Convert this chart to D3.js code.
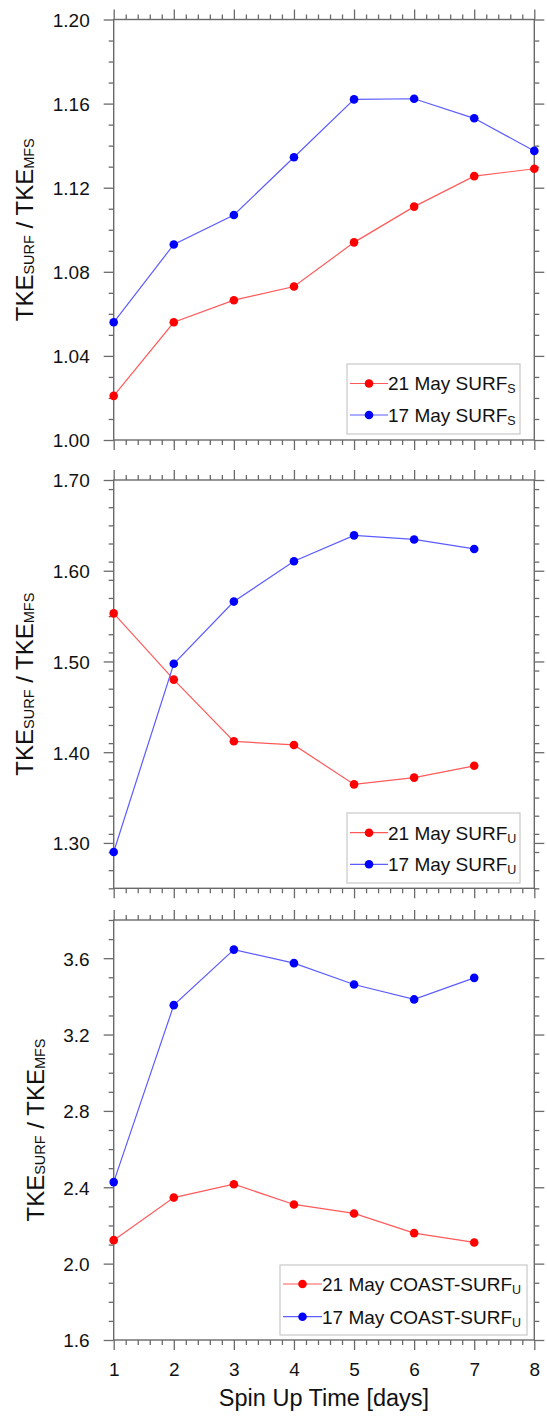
<!DOCTYPE html>
<html>
<head>
<meta charset="utf-8">
<script src="https://cdn.jsdelivr.net/npm/d3@7"></script>
<style>
  html, body { margin: 0; padding: 0; background: #fff; }
  svg { display: block; font-family: "Liberation Sans", Arial, Helvetica, sans-serif; }
</style>
</head>
<body>
<svg id="chart" width="547" height="1417"></svg>
<script>
// ---------------- data ----------------
const days = [1, 2, 3, 4, 5, 6, 7, 8];
const xTickLabels = ["1", "2", "3", "4", "5", "6", "7", "8"];

// Panel 1: SURF_S
const p1Red  = [1.021, 1.056, 1.0665, 1.073, 1.094, 1.111, 1.1255, 1.129];
const p1Blue = [1.056, 1.093, 1.107, 1.1345, 1.162, 1.1623, 1.153, 1.1375];
const p1YTicks = [1.00, 1.04, 1.08, 1.12, 1.16, 1.20];
const p1YLabels = ["1.00", "1.04", "1.08", "1.12", "1.16", "1.20"];

// Panel 2: SURF_U
const p2Red  = [1.553, 1.480, 1.412, 1.408, 1.3645, 1.372, 1.385];
const p2Blue = [1.290, 1.4975, 1.566, 1.6105, 1.639, 1.6345, 1.624];
const p2YTicks = [1.30, 1.40, 1.50, 1.60, 1.70];
const p2YLabels = ["1.30", "1.40", "1.50", "1.60", "1.70"];

// Panel 3: COAST-SURF_U
const p3Red  = [2.123, 2.346, 2.416, 2.310, 2.263, 2.160, 2.111];
const p3Blue = [2.427, 3.354, 3.645, 3.574, 3.462, 3.384, 3.497];
const p3YTicks = [1.6, 2.0, 2.4, 2.8, 3.2, 3.6];
const p3YLabels = ["1.6", "2.0", "2.4", "2.8", "3.2", "3.6"];

const legendRed  = ["21 May SURF", "21 May SURF", "21 May COAST-SURF"];
const legendBlue = ["17 May SURF", "17 May SURF", "17 May COAST-SURF"];
const legendSub  = ["S", "U", "U"];

// ---------------- layout ----------------
const svg = d3.select("#chart");
const X0 = 113.7, X1 = 534.3;
const axisCol = "#6a6a6a";
const redLine = "#ff5a5a", redDot = "#ff0000";
const blueLine = "#5c5cff", blueDot = "#0000ff";

const panels = [
  { top: 19.5, bottom: 440, dom: [1.00, 1.20], ticks: p1YTicks, labels: p1YLabels, minorStep: 0.01,
    red: p1Red, blue: p1Blue, titleX: 33,
    leg: { x: 347, y: 364, w: 173, h: 70, r1: 383.5, r2: 415, lx0: 350, lx1: 388 } },
  { top: 480, bottom: 888.3, dom: [1.25, 1.70], ticks: p2YTicks, labels: p2YLabels, minorStep: 0.02,
    red: p2Red, blue: p2Blue, titleX: 33,
    leg: { x: 347, y: 813, w: 173, h: 70, r1: 832.7, r2: 864.3, lx0: 350, lx1: 388 } },
  { top: 920, bottom: 1340, dom: [1.6, 3.8], ticks: p3YTicks, labels: p3YLabels, minorStep: 0.1,
    red: p3Red, blue: p3Blue, titleX: 43.5,
    leg: { x: 280, y: 1265, w: 247, h: 70, r1: 1284, r2: 1316.7, lx0: 283, lx1: 322 } }
];

const x = d3.scaleLinear().domain([1, 8]).range([X0, X1]);
const xMinor = d3.range(1, 8.0001, 0.2).map(v => Math.round(v * 10) / 10).filter(v => !days.includes(v));

function styleAxis(g) {
  g.select(".domain").remove();
  g.selectAll(".tick line").attr("stroke", axisCol).attr("stroke-width", 1.3);
  g.selectAll(".tick text").attr("fill", "#111").style("font-size", "19px")
    .style("font-family", '"Liberation Sans", Arial, sans-serif');
}

panels.forEach((p, i) => {
  const y = d3.scaleLinear().domain(p.dom).range([p.bottom, p.top]);
  const n = Math.round((p.dom[1] - p.dom[0]) / p.minorStep);
  const yMinor = d3.range(0, n + 1).map(k => +(p.dom[0] + k * p.minorStep).toFixed(4))
    .filter(v => !p.ticks.some(t => Math.abs(t - v) < 1e-6));

  const g = svg.append("g");

  // frame
  g.append("rect").attr("x", X0).attr("y", p.top).attr("width", X1 - X0).attr("height", p.bottom - p.top)
    .attr("fill", "none").attr("stroke", axisCol).attr("stroke-width", 1.4);

  // y axes (left with labels)
  g.append("g").attr("transform", `translate(${X0},0)`)
    .call(d3.axisLeft(y).tickValues(p.ticks).tickFormat((d, k) => p.labels[k]).tickSize(10).tickPadding(14))
    .call(styleAxis)
    .call(a => a.selectAll(".tick text").attr("dy", "0.36em"));
  g.append("g").attr("transform", `translate(${X0},0)`)
    .call(d3.axisLeft(y).tickValues(yMinor).tickFormat("").tickSize(5)).call(styleAxis);
  g.append("g").attr("transform", `translate(${X1},0)`)
    .call(d3.axisRight(y).tickValues(p.ticks).tickFormat("").tickSize(10)).call(styleAxis);
  g.append("g").attr("transform", `translate(${X1},0)`)
    .call(d3.axisRight(y).tickValues(yMinor).tickFormat("").tickSize(5)).call(styleAxis);

  // x axes
  const isLast = i === panels.length - 1;
  g.append("g").attr("transform", `translate(0,${p.bottom})`)
    .call(d3.axisBottom(x).tickValues(days).tickFormat(isLast ? ((d, k) => xTickLabels[k]) : "").tickSize(10).tickPadding(13))
    .call(styleAxis);
  g.append("g").attr("transform", `translate(0,${p.bottom})`)
    .call(d3.axisBottom(x).tickValues(xMinor).tickFormat("").tickSize(5)).call(styleAxis);
  g.append("g").attr("transform", `translate(0,${p.top})`)
    .call(d3.axisTop(x).tickValues(days).tickFormat("").tickSize(10)).call(styleAxis);
  g.append("g").attr("transform", `translate(0,${p.top})`)
    .call(d3.axisTop(x).tickValues(xMinor).tickFormat("").tickSize(5)).call(styleAxis);

  // y title
  const cy = (p.top + p.bottom) / 2;
  const t = g.append("text").attr("transform", `translate(${p.titleX},${cy}) rotate(-90)`)
    .attr("text-anchor", "middle").attr("fill", "#111").style("font-size", "24px");
  t.append("tspan").text("TKE");
  t.append("tspan").text("SURF").style("font-size", "14.5px").attr("dy", 1);
  t.append("tspan").text(" / TKE").attr("dy", -1);
  t.append("tspan").text("MFS").style("font-size", "14.5px").attr("dy", 1);

  // series
  const line = d3.line().x((d, k) => x(days[k])).y(d => y(d));
  [[p.red, redLine, redDot], [p.blue, blueLine, blueDot]].forEach(([vals, lc, dc]) => {
    g.append("path").datum(vals).attr("d", line).attr("fill", "none")
      .attr("stroke", lc).attr("stroke-width", 1.2);
    g.selectAll(null).data(vals).enter().append("circle")
      .attr("cx", (d, k) => x(days[k])).attr("cy", d => y(d)).attr("r", 4.3).attr("fill", dc);
  });

  // legend
  const L = p.leg;
  g.append("rect").attr("x", L.x).attr("y", L.y).attr("width", L.w).attr("height", L.h)
    .attr("fill", "#fff").attr("stroke", "#c8c8c8").attr("stroke-width", 1.2);
  [[L.r1, redLine, redDot, legendRed[i]], [L.r2, blueLine, blueDot, legendBlue[i]]].forEach(([ry, lc, dc, txt]) => {
    g.append("line").attr("x1", L.lx0).attr("x2", L.lx1).attr("y1", ry).attr("y2", ry)
      .attr("stroke", lc).attr("stroke-width", 1.2);
    g.append("circle").attr("cx", (L.lx0 + L.lx1) / 2).attr("cy", ry).attr("r", 4.3).attr("fill", dc);
    const tx = g.append("text").attr("x", L.lx1).attr("y", ry).attr("dy", "0.36em")
      .attr("fill", "#111").style("font-size", "19px");
    tx.append("tspan").text(txt);
    tx.append("tspan").text(legendSub[i]).style("font-size", "12.5px").attr("dy", 3);
  });
});

// x title
svg.append("text").attr("x", (X0 + X1) / 2).attr("y", 1406).attr("text-anchor", "middle")
  .attr("fill", "#111").style("font-size", "23.5px").text("Spin Up Time [days]");
</script>
</body>
</html>
